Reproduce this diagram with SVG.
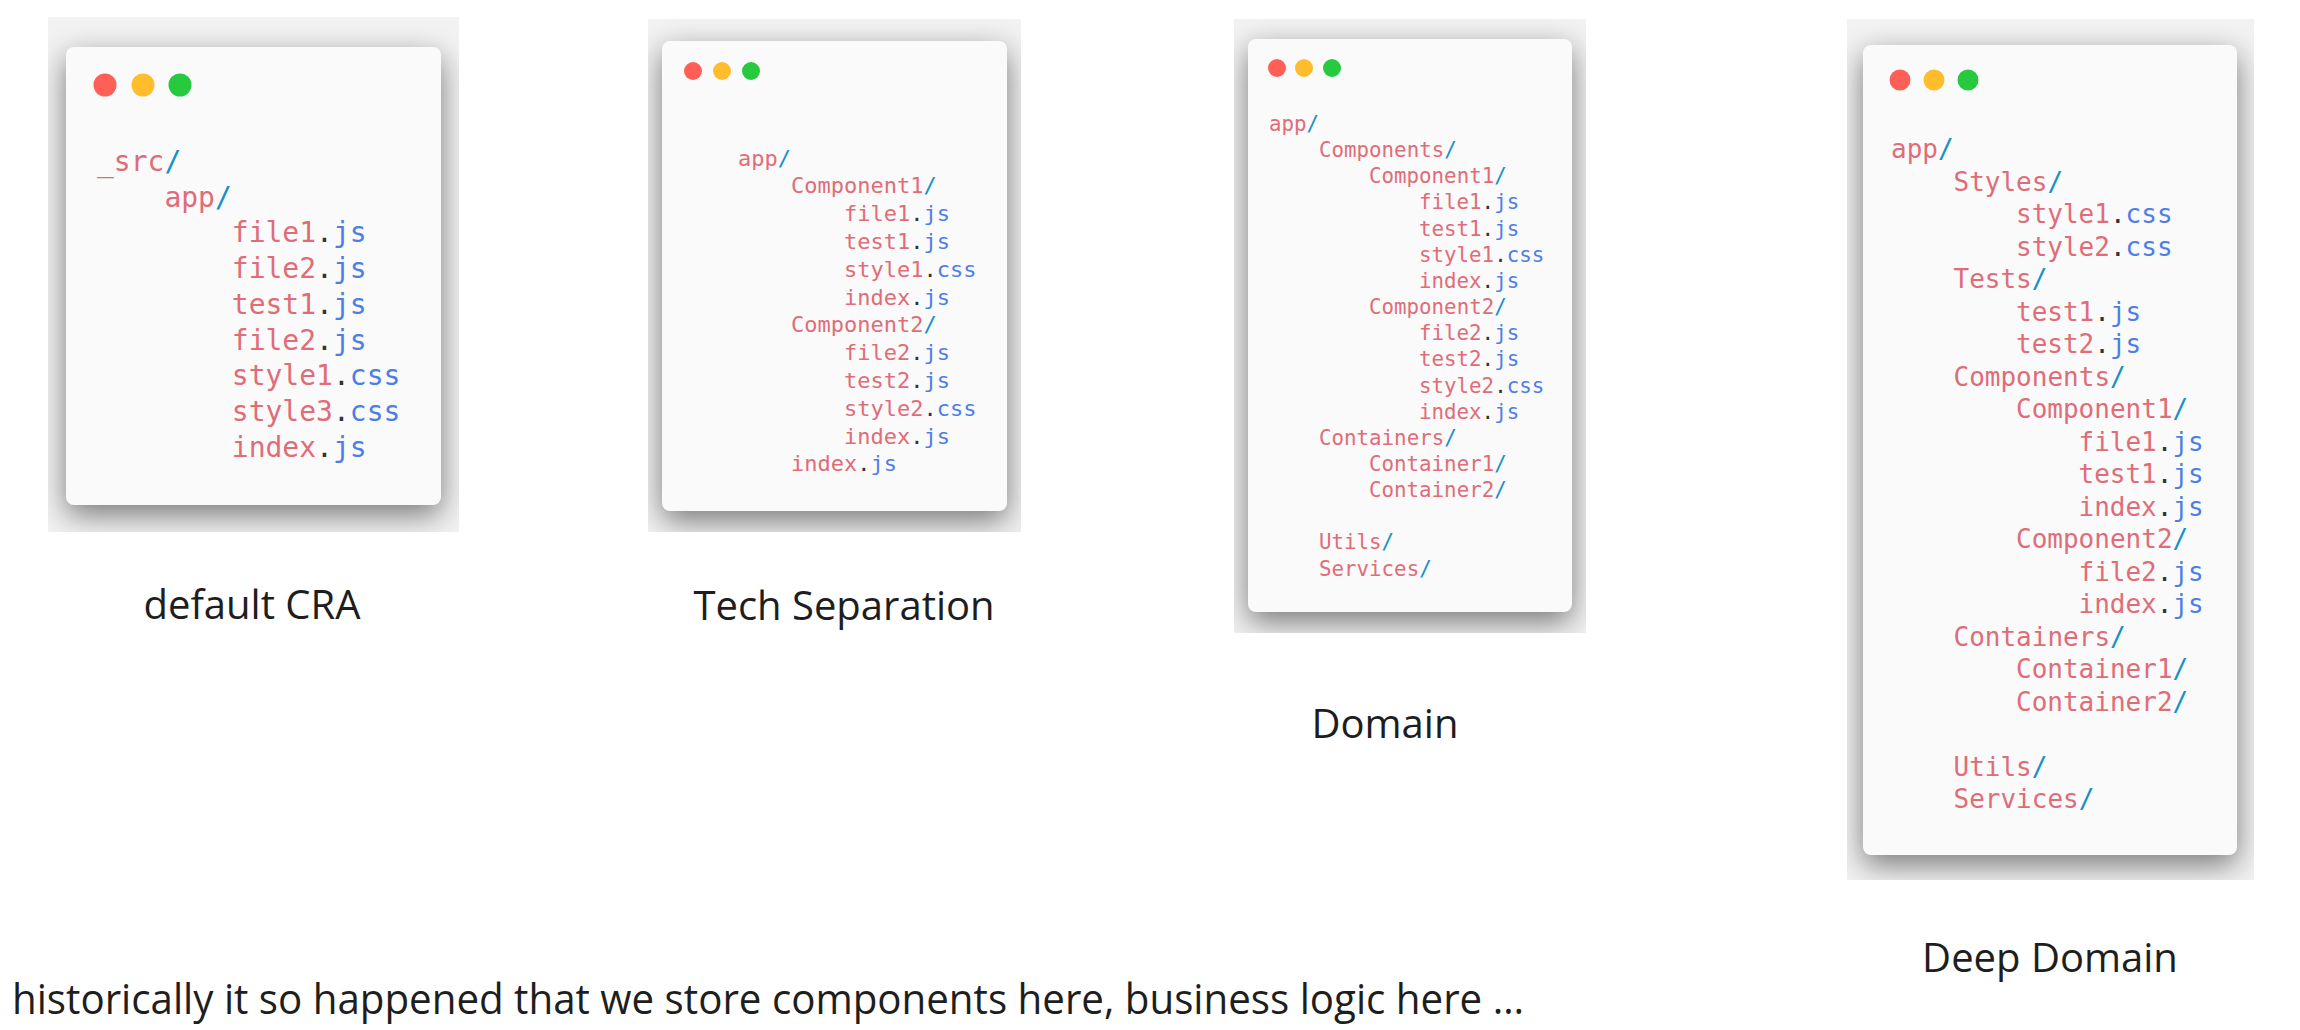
<svg xmlns="http://www.w3.org/2000/svg" width="2300" height="1030" viewBox="0 0 2300 1030">
<style>
.m{font-family:"DejaVu Sans Mono","Liberation Mono",monospace;fill:#e06c78}
.b{fill:#4d7ee8}
.s{fill:#1590c8}
.d{fill:#333333}
.lbl{font-family:"Open Sans","Noto Sans","Liberation Sans",sans-serif;font-size:40px;fill:#1e1e1e;text-anchor:middle}
.note{font-family:"Open Sans","Noto Sans","Liberation Sans",sans-serif;font-size:42px;fill:#1e1e1e}
.card{fill:#fafafa}
.base{fill:#f2f2f2}
.shd{fill:#000;opacity:0.5}
.red{fill:#ff5f56}.yel{fill:#ffbd2e}.grn{fill:#27c93f}
</style>
<defs>
<filter id="blur" x="-30%" y="-30%" width="160%" height="160%"><feGaussianBlur stdDeviation="15"/></filter>
<clipPath id="c1"><rect x="48" y="17" width="411" height="515"/></clipPath>
<clipPath id="c2"><rect x="648" y="19" width="373" height="513"/></clipPath>
<clipPath id="c3"><rect x="1234" y="19" width="352" height="614"/></clipPath>
<clipPath id="c4"><rect x="1847" y="19" width="407" height="861"/></clipPath>
</defs>
<rect width="2300" height="1030" fill="#ffffff"/>

<g id="card-default-cra">
<rect class="base" x="48" y="17" width="411" height="515"/>
<g clip-path="url(#c1)"><rect class="shd" x="66" y="57" width="375" height="458" rx="8" filter="url(#blur)"/></g>
<rect class="card" x="66" y="47" width="375" height="458" rx="8"/>
<circle class="red" cx="105" cy="85" r="11.5"/><circle class="yel" cx="143" cy="85" r="11.5"/><circle class="grn" cx="180" cy="85" r="11.5"/>
<g class="m" font-size="28">
<text x="97" y="171">_src<tspan class="s">/</tspan></text>
<text x="164.4" y="206.7">app<tspan class="s">/</tspan></text>
<text x="231.8" y="242.4">file1<tspan class="d">.</tspan><tspan class="b">js</tspan></text>
<text x="231.8" y="278.1">file2<tspan class="d">.</tspan><tspan class="b">js</tspan></text>
<text x="231.8" y="313.8">test1<tspan class="d">.</tspan><tspan class="b">js</tspan></text>
<text x="231.8" y="349.5">file2<tspan class="d">.</tspan><tspan class="b">js</tspan></text>
<text x="231.8" y="385.2">style1<tspan class="d">.</tspan><tspan class="b">css</tspan></text>
<text x="231.8" y="420.9">style3<tspan class="d">.</tspan><tspan class="b">css</tspan></text>
<text x="231.8" y="456.6">index<tspan class="d">.</tspan><tspan class="b">js</tspan></text>
</g>
<text class="lbl" x="252" y="619">default CRA</text>
</g>

<g id="card-tech-separation">
<rect class="base" x="648" y="19" width="373" height="513"/>
<g clip-path="url(#c2)"><rect class="shd" x="662" y="51" width="345" height="470" rx="8" filter="url(#blur)"/></g>
<rect class="card" x="662" y="41" width="345" height="470" rx="8"/>
<circle class="red" cx="693" cy="71" r="9"/><circle class="yel" cx="722" cy="71" r="9"/><circle class="grn" cx="751" cy="71" r="9"/>
<g class="m" font-size="22">
<text x="738" y="165.6">app<tspan class="s">/</tspan></text>
<text x="791" y="193.4">Component1<tspan class="s">/</tspan></text>
<text x="844" y="221.2">file1<tspan class="d">.</tspan><tspan class="b">js</tspan></text>
<text x="844" y="249">test1<tspan class="d">.</tspan><tspan class="b">js</tspan></text>
<text x="844" y="276.8">style1<tspan class="d">.</tspan><tspan class="b">css</tspan></text>
<text x="844" y="304.6">index<tspan class="d">.</tspan><tspan class="b">js</tspan></text>
<text x="791" y="332.4">Component2<tspan class="s">/</tspan></text>
<text x="844" y="360.2">file2<tspan class="d">.</tspan><tspan class="b">js</tspan></text>
<text x="844" y="388">test2<tspan class="d">.</tspan><tspan class="b">js</tspan></text>
<text x="844" y="415.8">style2<tspan class="d">.</tspan><tspan class="b">css</tspan></text>
<text x="844" y="443.6">index<tspan class="d">.</tspan><tspan class="b">js</tspan></text>
<text x="791" y="471.4">index<tspan class="d">.</tspan><tspan class="b">js</tspan></text>
</g>
<text class="lbl" x="844" y="620">Tech Separation</text>
</g>

<g id="card-domain">
<rect class="base" x="1234" y="19" width="352" height="614"/>
<g clip-path="url(#c3)"><rect class="shd" x="1248" y="49" width="324" height="573" rx="8" filter="url(#blur)"/></g>
<rect class="card" x="1248" y="39" width="324" height="573" rx="8"/>
<circle class="red" cx="1277" cy="68" r="9"/><circle class="yel" cx="1304" cy="68" r="9"/><circle class="grn" cx="1332" cy="68" r="9"/>
<g class="m" font-size="20.8">
<text x="1269" y="131">app<tspan class="s">/</tspan></text>
<text x="1319" y="157.15">Components<tspan class="s">/</tspan></text>
<text x="1369" y="183.3">Component1<tspan class="s">/</tspan></text>
<text x="1419" y="209.45">file1<tspan class="d">.</tspan><tspan class="b">js</tspan></text>
<text x="1419" y="235.6">test1<tspan class="d">.</tspan><tspan class="b">js</tspan></text>
<text x="1419" y="261.75">style1<tspan class="d">.</tspan><tspan class="b">css</tspan></text>
<text x="1419" y="287.9">index<tspan class="d">.</tspan><tspan class="b">js</tspan></text>
<text x="1369" y="314.05">Component2<tspan class="s">/</tspan></text>
<text x="1419" y="340.2">file2<tspan class="d">.</tspan><tspan class="b">js</tspan></text>
<text x="1419" y="366.35">test2<tspan class="d">.</tspan><tspan class="b">js</tspan></text>
<text x="1419" y="392.5">style2<tspan class="d">.</tspan><tspan class="b">css</tspan></text>
<text x="1419" y="418.65">index<tspan class="d">.</tspan><tspan class="b">js</tspan></text>
<text x="1319" y="444.8">Containers<tspan class="s">/</tspan></text>
<text x="1369" y="470.95">Container1<tspan class="s">/</tspan></text>
<text x="1369" y="497.1">Container2<tspan class="s">/</tspan></text>
<text x="1319" y="549.4">Utils<tspan class="s">/</tspan></text>
<text x="1319" y="575.55">Services<tspan class="s">/</tspan></text>
</g>
<text class="lbl" x="1385" y="738">Domain</text>
</g>

<g id="card-deep-domain">
<rect class="base" x="1847" y="19" width="407" height="861"/>
<g clip-path="url(#c4)"><rect class="shd" x="1863" y="55" width="374" height="810" rx="8" filter="url(#blur)"/></g>
<rect class="card" x="1863" y="45" width="374" height="810" rx="8"/>
<circle class="red" cx="1900" cy="80" r="10.5"/><circle class="yel" cx="1934" cy="80" r="10.5"/><circle class="grn" cx="1968" cy="80" r="10.5"/>
<g class="m" font-size="26">
<text x="1891" y="158">app<tspan class="s">/</tspan></text>
<text x="1953.5" y="190.5">Styles<tspan class="s">/</tspan></text>
<text x="2016" y="223">style1<tspan class="d">.</tspan><tspan class="b">css</tspan></text>
<text x="2016" y="255.5">style2<tspan class="d">.</tspan><tspan class="b">css</tspan></text>
<text x="1953.5" y="288">Tests<tspan class="s">/</tspan></text>
<text x="2016" y="320.5">test1<tspan class="d">.</tspan><tspan class="b">js</tspan></text>
<text x="2016" y="353">test2<tspan class="d">.</tspan><tspan class="b">js</tspan></text>
<text x="1953.5" y="385.5">Components<tspan class="s">/</tspan></text>
<text x="2016" y="418">Component1<tspan class="s">/</tspan></text>
<text x="2078.5" y="450.5">file1<tspan class="d">.</tspan><tspan class="b">js</tspan></text>
<text x="2078.5" y="483">test1<tspan class="d">.</tspan><tspan class="b">js</tspan></text>
<text x="2078.5" y="515.5">index<tspan class="d">.</tspan><tspan class="b">js</tspan></text>
<text x="2016" y="548">Component2<tspan class="s">/</tspan></text>
<text x="2078.5" y="580.5">file2<tspan class="d">.</tspan><tspan class="b">js</tspan></text>
<text x="2078.5" y="613">index<tspan class="d">.</tspan><tspan class="b">js</tspan></text>
<text x="1953.5" y="645.5">Containers<tspan class="s">/</tspan></text>
<text x="2016" y="678">Container1<tspan class="s">/</tspan></text>
<text x="2016" y="710.5">Container2<tspan class="s">/</tspan></text>
<text x="1953.5" y="775.5">Utils<tspan class="s">/</tspan></text>
<text x="1953.5" y="808">Services<tspan class="s">/</tspan></text>
</g>
<text class="lbl" x="2050" y="972">Deep Domain</text>
</g>

<g id="connectors"></g>

<text id="note" class="note" x="12" y="1014" textLength="1512" lengthAdjust="spacingAndGlyphs">historically it so happened that we store components here, business logic here …</text>
</svg>
